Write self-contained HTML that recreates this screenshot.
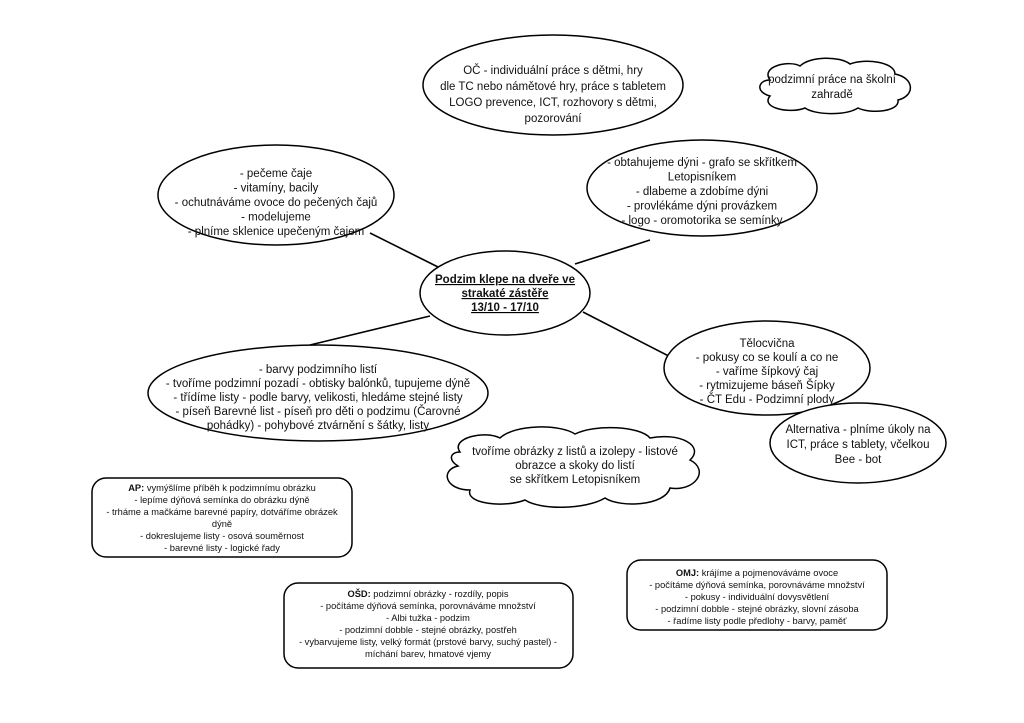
<!DOCTYPE html>
<html><head><meta charset="utf-8"><style>
html,body{margin:0;padding:0;background:#fff;}
svg{display:block;}
text{font-family:"Liberation Sans",Arial,sans-serif;fill:#111;}
.e{font-size:11.5px;}
.b{font-size:9.3px;}
</style></head><body>
<svg width="1024" height="723" viewBox="0 0 1024 723" xmlns="http://www.w3.org/2000/svg">
<g stroke="#000" stroke-width="1.6" fill="none">
<line x1="370" y1="233" x2="440" y2="268"/>
<line x1="575" y1="264" x2="650" y2="240"/>
<line x1="310" y1="345" x2="430" y2="316"/>
<line x1="583" y1="312" x2="692" y2="368"/>
</g>
<g stroke="#000" stroke-width="1.5" fill="#fff">
<ellipse cx="553" cy="85" rx="130" ry="50"/>
<ellipse cx="276" cy="195" rx="118" ry="50"/>
<ellipse cx="702" cy="188" rx="115" ry="48"/>
<ellipse cx="505" cy="293" rx="85" ry="42"/>
<ellipse cx="318" cy="393" rx="170" ry="48"/>
<ellipse cx="767" cy="368" rx="103" ry="47"/>
<ellipse cx="858" cy="443" rx="88" ry="40"/>
<path d="M770,80 C760,66 790,60 800,66 C810,56 840,56 850,64 C865,58 895,62 895,74 C915,78 915,96 898,100 C900,112 870,114 858,108 C845,116 815,115 805,108 C790,114 760,108 770,96 C755,92 758,80 770,80 Z"/>
<path d="M460,452 C450,438 485,430 500,438 C515,424 560,424 575,434 C595,424 640,426 650,438 C680,432 705,446 690,460 C710,470 695,492 670,488 C665,506 620,508 605,498 C585,510 540,510 525,500 C505,508 465,504 470,490 C445,490 440,470 458,466 C448,460 450,452 460,452 Z"/>
<rect x="92" y="478" width="260" height="79" rx="14"/>
<rect x="284" y="583" width="289" height="85" rx="14"/>
<rect x="627" y="560" width="260" height="70" rx="14"/>
</g>
<g text-anchor="middle" class="e">
<text x="553" y="74">OČ - individuální práce s dětmi, hry</text>
<text x="553" y="90">dle TC nebo námětové hry, práce s tabletem</text>
<text x="553" y="106">LOGO prevence, ICT, rozhovory s dětmi,</text>
<text x="553" y="122">pozorování</text>

<text x="276" y="177">- pečeme čaje</text>
<text x="276" y="191.5">- vitamíny, bacily</text>
<text x="276" y="206">- ochutnáváme ovoce do pečených čajů</text>
<text x="276" y="220.5">- modelujeme</text>
<text x="276" y="235">- plníme sklenice upečeným čajem</text>

<text x="702" y="166">- obtahujeme dýni - grafo se skřítkem</text>
<text x="702" y="180.5">Letopisníkem</text>
<text x="702" y="195">- dlabeme a zdobíme dýni</text>
<text x="702" y="209.5">- provlékáme dýni provázkem</text>
<text x="702" y="224">- logo - oromotorika se semínky</text>

<g font-weight="bold" text-decoration="underline">
<text x="505" y="283">Podzim klepe na dveře ve</text>
<text x="505" y="297">strakaté zástěře</text>
<text x="505" y="311">13/10 - 17/10</text>
</g>

<text x="318" y="373">- barvy podzimního listí</text>
<text x="318" y="387">- tvoříme podzimní pozadí - obtisky balónků, tupujeme dýně</text>
<text x="318" y="401">- třídíme listy - podle barvy, velikosti, hledáme stejné listy</text>
<text x="318" y="415">- píseň Barevné list - píseň pro děti o podzimu (Čarovné</text>
<text x="318" y="429">pohádky) - pohybové ztvárnění s šátky, listy</text>

<text x="767" y="347">Tělocvična</text>
<text x="767" y="361">- pokusy co se koulí a co ne</text>
<text x="767" y="375">- vaříme šípkový čaj</text>
<text x="767" y="389">- rytmizujeme báseň Šípky</text>
<text x="767" y="403">- ČT Edu - Podzimní plody</text>

<text x="858" y="433">Alternativa - plníme úkoly na</text>
<text x="858" y="448">ICT, práce s tablety, včelkou</text>
<text x="858" y="463">Bee - bot</text>

<text x="832" y="83">podzimní práce na školní</text>
<text x="832" y="98">zahradě</text>

<text x="575" y="455">tvoříme obrázky z listů a izolepy - listové</text>
<text x="575" y="469">obrazce a skoky do listí</text>
<text x="575" y="483">se skřítkem Letopisníkem</text>
</g>
<g text-anchor="middle" class="b">
<text x="222" y="491"><tspan font-weight="bold">AP:</tspan> vymýšlíme příběh k podzimnímu obrázku</text>
<text x="222" y="503">- lepíme dýňová semínka do obrázku dýně</text>
<text x="222" y="515">- trháme a mačkáme barevné papíry, dotváříme obrázek</text>
<text x="222" y="527">dýně</text>
<text x="222" y="539">- dokreslujeme listy - osová souměrnost</text>
<text x="222" y="551">- barevné listy - logické řady</text>

<text x="428" y="597"><tspan font-weight="bold">OŠD:</tspan> podzimní obrázky - rozdíly, popis</text>
<text x="428" y="609">- počítáme dýňová semínka, porovnáváme množství</text>
<text x="428" y="621">- Albi tužka - podzim</text>
<text x="428" y="633">- podzimní dobble - stejné obrázky, postřeh</text>
<text x="428" y="645">- vybarvujeme listy, velký formát (prstové barvy, suchý pastel) -</text>
<text x="428" y="657">míchání barev, hmatové vjemy</text>

<text x="757" y="576"><tspan font-weight="bold">OMJ:</tspan> krájíme a pojmenováváme ovoce</text>
<text x="757" y="588">- počítáme dýňová semínka, porovnáváme množství</text>
<text x="757" y="600">- pokusy - individuální dovysvětlení</text>
<text x="757" y="612">- podzimní dobble - stejné obrázky, slovní zásoba</text>
<text x="757" y="624">- řadíme listy podle předlohy - barvy, paměť</text>
</g>
</svg>
</body></html>
